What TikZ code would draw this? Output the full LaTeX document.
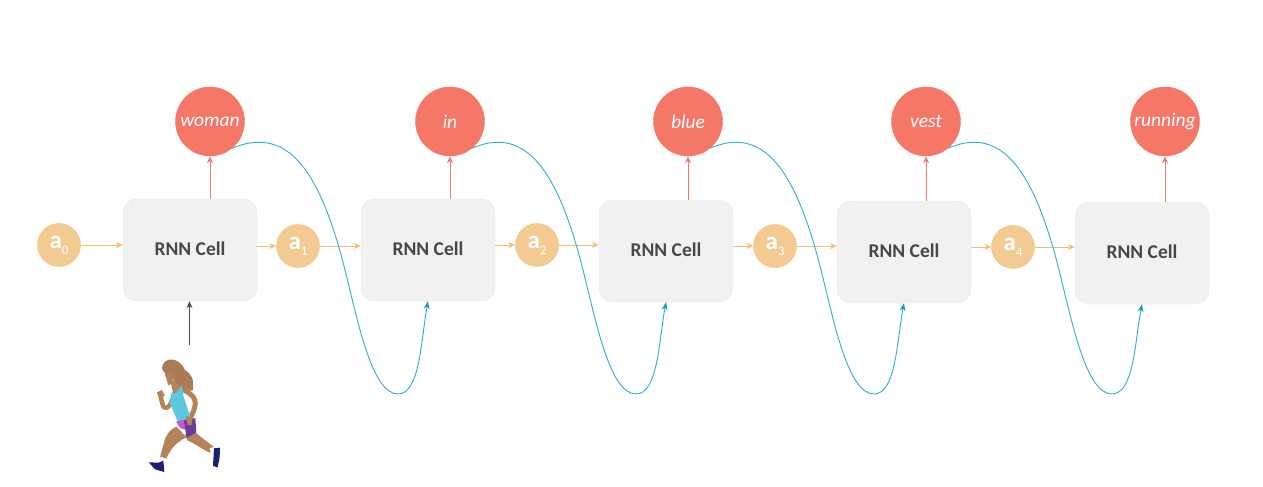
\documentclass[tikz,border=0pt]{standalone}
\usepackage{fontspec}
\setmainfont{Carlito}
\usetikzlibrary{arrows.meta,positioning}
\definecolor{cellfill}{HTML}{F1F1F1}
\definecolor{celledge}{HTML}{E6E6E6}
\definecolor{wordred}{HTML}{F47768}
\definecolor{statefill}{HTML}{F2CA92}
\definecolor{stateline}{HTML}{F6BE74}
\definecolor{loopblue}{HTML}{2BAFD0}
\definecolor{tipblue}{HTML}{159CBC}
\definecolor{skin}{HTML}{B5835A}
\definecolor{hair}{HTML}{A97C58}
\definecolor{vest}{HTML}{5CC8DE}
\definecolor{shortsa}{HTML}{C45CC8}
\definecolor{shortsb}{HTML}{6A3A9C}
\definecolor{shoe}{HTML}{1B2070}
\begin{document}
\begin{tikzpicture}[x=1pt, y=-1pt, >={Stealth[length=7pt,width=6pt]},
  c/.style={draw=celledge, fill=cellfill, minimum width=134pt, minimum height=102pt, rounded corners=14pt, inner sep=0pt, text=black!72, font=\fontsize{19.5}{19.5}\selectfont\bfseries},
  w/.style={circle, draw=wordred, fill=wordred, minimum size=69pt, inner sep=0pt, text=white, font=\fontsize{19.5}{19.5}\selectfont\itshape},
  a/.style={circle, draw=stateline, fill=statefill, minimum size=43pt, inner sep=0pt, text=white, font=\fontsize{25}{25}\selectfont\bfseries},
  st/.style={->, stateline, line width=.9pt},
  up/.style={->, wordred, line width=1pt},
  bk/.style={-{Stealth[length=8pt,width=6pt,tipblue]}, loopblue, line width=.9pt}]
\newcommand{\lab}[2]{\raisebox{3pt}{#1\raisebox{-6pt}{\fontsize{13}{13}\selectfont\mdseries #2}}}
\useasboundingbox (0,0) rectangle (1263,487);
\node[c] (c1) at (190,250) {\raisebox{2pt}{RNN Cell}}; \node[c] (c2) at (428,250) {\raisebox{2pt}{RNN Cell}}; \node[c] (c3) at (666,251) {\raisebox{2pt}{RNN Cell}};
\node[c] (c4) at (904,252) {\raisebox{2pt}{RNN Cell}}; \node[c] (c5) at (1142,253) {\raisebox{2pt}{RNN Cell}};
\node[w] (w1) at (210,121.5) {woman}; \node[w] (w2) at (450,121.5) {in}; \node[w] (w3) at (688,121.5) {blue};
\node[w] (w4) at (926,121.5) {vest}; \node[w] (w5) at (1165,121.5) {running};
\node[a] (a0) at (59,245) {\lab{a}{0}}; \node[a] (a1) at (298,246) {\lab{a}{1}}; \node[a] (a2) at (537,245) {\lab{a}{2}};
\node[a] (a3) at (775,246) {\lab{a}{3}}; \node[a] (a4) at (1013,247) {\lab{a}{4}};
\coordinate (in) at (189.5,345);
\foreach \n in {1,...,5} \draw[up] (w\n |- c\n.north) -- (w\n);
\foreach \p/\n in {0/1,1/2,2/3,3/4,4/5} \draw[st] (a\p) -- (a\p -| c\n.west);
\foreach \p/\n in {1/1,2/2,3/3,4/4} \draw[st] (c\p.east |- a\n) -- (a\n);
\foreach \p/\n/\d in {1/2/0,2/3/238,3/4/476,4/5/714}
  \draw[bk, xshift=\d pt] (w\p.-50) .. controls (282,128) and (317,158) .. (345,270) .. controls (358,322) and (372,394) .. (398,394) .. controls (420,394) and (421,340) .. (c\n.south);
\draw[->, black!70, line width=.9pt] (in) -- (in |- c1.south);
% runner
\begin{scope}[shift={(120pt,-340pt)}, x=.3333pt, y=-.3333pt, line cap=round, line join=round]
\fill[skin] (170,260) .. controls (148,268) and (140,285) .. (134,300) -- (120,352) -- (138,358) .. controls (152,325) and (168,308) .. (199,292) -- cycle;
\fill[skin] (195,283) -- (227,278) .. controls (245,293) and (265,308) .. (285,323) -- (270,338) .. controls (245,328) and (225,310) .. (203,302) -- cycle;
\draw[skin, line width=5pt] (195,152) .. controls (240,175) and (228,200) .. (208,240);
\draw[skin, line width=4.5pt] (165,155) .. controls (155,190) and (145,212) .. (130,200) -- (122,172);
\fill[skin] (110,158) -- (125,150) -- (134,165) -- (122,184) -- cycle;
\fill[skin] (150,120) -- (185,125) -- (203,155) -- (160,160) -- cycle;
\fill[hair] (126,84) .. controls (130,48) and (178,50) .. (195,90) .. controls (212,100) and (225,118) .. (218,152) .. controls (195,154) and (168,135) .. (155,108) .. controls (142,104) and (128,98) .. (126,84);
\fill[skin] (134,100) -- (156,104) -- (162,128) -- (145,136) -- cycle;
\fill[vest] (153,160) -- (168,158) -- (185,136) -- (191,170) -- (214,240) -- (173,244) -- (150,190) -- cycle;
\fill[shortsa] (168,245) -- (198,238) -- (198,270) -- (180,264) -- cycle;
\fill[shortsb] (192,242) -- (226,234) -- (229,277) -- (200,294) -- cycle;
\fill[skin] (197,228) -- (218,232) -- (215,255) -- (203,255) -- cycle;
\fill[white] (122,350) -- (138,356) -- (133,375) -- (118,370) -- cycle;
\fill[white] (268,325) -- (284,320) -- (286,336) -- (274,338) -- cycle;
\fill[shoe] (86,367) -- (116,368) -- (130,362) -- (133,396) -- (105,388) -- cycle;
\fill[shoe] (282,325) -- (300,323) -- (299,352) -- (293,382) -- (279,378) -- cycle;
\end{scope}
\end{tikzpicture}
\end{document}
